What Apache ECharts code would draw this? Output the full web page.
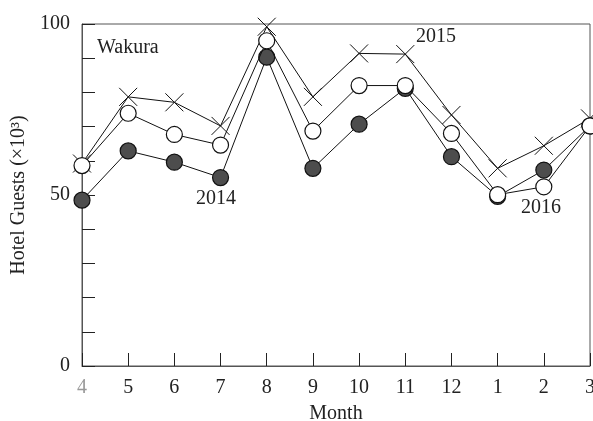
<!DOCTYPE html>
<html><head><meta charset="utf-8">
<script src="https://cdn.jsdelivr.net/npm/echarts@6/dist/echarts.min.js"></script>
<style>html,body{margin:0;padding:0;background:#fff}#c{width:593px;height:421px}</style>
</head><body><div id="c"></div>
<script>
var months = ['4','5','6','7','8','9','10','11','12','1','2','3'];
var yTickLabels = ['0','50','100'];
var guests2014 = [48.5, 62.9, 59.6, 55.1, 90.3, 57.8, 70.7, 81.2, 61.2, 49.6, 57.3, 70.2];
var guests2015 = [59.2, 78.7, 77.1, 70.2, 99.2, 78.7, 91.4, 91.2, 73.4, 57.8, 64.4, 72.4];
var guests2016 = [58.6, 73.9, 67.7, 64.6, 95.1, 68.7, 82.0, 82.0, 68.0, 50.1, 52.4, 70.2];
var annotations = ['Wakura', '2014', '2015', '2016'];

var F = '"Liberation Serif","DejaVu Serif",serif';
var FS = 20;
var chart = echarts.init(document.getElementById('c'), null, {renderer:'canvas'});
var cross = 'path://M0,0L10,10M10,0L0,10';
function lineSeries(name, data, symbol, size, fill, bw, z){
  return {
    name: name, type:'line', data:data, symbol:symbol, symbolSize:size,
    showAllSymbol:true, z:z, animation:false,
    lineStyle:{color:'#111', width:1},
    itemStyle:{color:fill, borderColor:'#111', borderWidth:bw}
  };
}
chart.setOption({
  animation:false,
  grid:{left:82, right:3, top:24, bottom:55, outerBoundsMode:'none', containLabel:false,
    show:true, borderColor:'#555', borderWidth:1},
  xAxis:{
    type:'category', data:months, boundaryGap:false,
    name:'Month', nameLocation:'middle', nameGap:38,
    nameTextStyle:{fontFamily:F, fontSize:FS, color:'#222'},
    axisLine:{lineStyle:{color:'#555', width:1}},
    axisTick:{inside:true, length:13, lineStyle:{color:'#222'}},
    axisLabel:{fontFamily:F, fontSize:FS, margin:12, showMaxLabel:true, showMinLabel:true, interval:0,
      hideOverlap:false,
      color:function(v,i){return i===0?'#999':'#222';}}
  },
  yAxis:{
    type:'value', min:0, max:100, interval:10,
    name:'Hotel Guests (×10³)', nameLocation:'middle', nameGap:50, nameRotate:90,
    nameTextStyle:{fontFamily:F, fontSize:FS, color:'#222'},
    axisLine:{show:true, lineStyle:{color:'#555', width:1}},
    axisTick:{show:true, inside:true, length:13, lineStyle:{color:'#222'}},
    splitLine:{show:false},
    axisLabel:{fontFamily:F, fontSize:FS, color:'#222', margin:12,
      formatter:function(v){var s=String(v); return yTickLabels.indexOf(s)>=0?s:'';}}
  },
  series:[
    lineSeries('2015', guests2015, cross, 18, '#111', 1, 2),
    lineSeries('2014', guests2014, 'circle', 16, '#4d4d4d', 1.2, 3),
    lineSeries('2016', guests2016, 'circle', 16, '#fff', 1.2, 4)
  ],
  graphic:[
    {type:'text', left:97, top:38, style:{text:annotations[0], font:FS+'px '+F, fill:'#222'}},
    {type:'text', left:196, top:189, style:{text:annotations[1], font:FS+'px '+F, fill:'#222'}},
    {type:'text', left:416, top:27, style:{text:annotations[2], font:FS+'px '+F, fill:'#222'}},
    {type:'text', left:521, top:198, style:{text:annotations[3], font:FS+'px '+F, fill:'#222'}}
  ]
});
</script></body></html>
